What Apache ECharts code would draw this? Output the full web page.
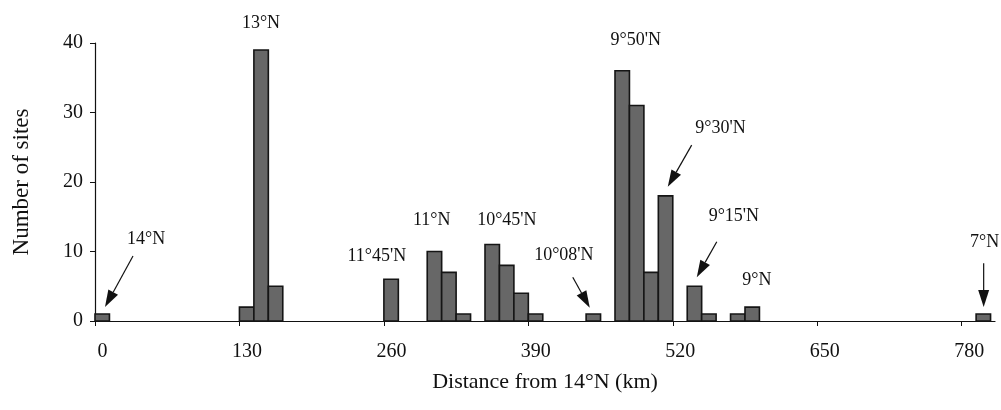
<!DOCTYPE html>
<html>
<head>
<meta charset="utf-8">
<script src="https://cdn.jsdelivr.net/npm/echarts@6/dist/echarts.min.js"></script>
<style>
  html, body { margin: 0; padding: 0; background: #fff; }
  #chart { width: 1001px; height: 410px; }
</style>
</head>
<body>
<div id="chart"></div>
<script>
// histogram bins: 13 km wide, start of each bin (km) and number of sites
const binWidth = 13;
const binStart = [0, 130, 143, 156, 260, 299, 312, 325, 351, 364, 377, 390, 442, 468, 481, 494, 507, 533, 546, 572, 585, 793];
const siteCount = [1, 2, 39, 5, 6, 10, 7, 1, 11, 8, 4, 1, 1, 36, 31, 7, 18, 5, 1, 1, 2, 1];

const xTicks = [0, 130, 260, 390, 520, 650, 780];

// latitude labels [text, km, sites]
const labelText = ['14°N', '13°N', "11°45'N", '11°N', "10°45'N", "10°08'N", "9°50'N", "9°30'N", "9°15'N", '9°N', '7°N'];
const labelPos = [[46, 11.7], [149.4, 42.9], [253.7, 9.35], [303, 14.5], [370.7, 14.5], [422, 9.5], [486.7, 40.4], [563, 27.8], [575, 15], [595.6, 5.9], [800.7, 11.4]];

// arrows [from, to] in km / sites
const arrows = [
  [[34.2, 9.35], [9, 2.0]],
  [[430, 6.3], [445.3, 1.9]],
  [[537, 25.3], [515.5, 19.3]],
  [[559.6, 11.4], [541.6, 6.3]],
  [[799.8, 8.3], [799.8, 2.0]]
];

const serif = '"Liberation Serif", "DejaVu Serif", serif';
const chart = echarts.init(document.getElementById('chart'), null, { renderer: 'canvas' });

chart.setOption({
  animation: false,
  backgroundColor: '#fff',
  grid: { left: 95, top: 43, width: 900, height: 278, containLabel: false },
  xAxis: {
    type: 'value',
    min: 0,
    max: 810,
    interval: 130,
    name: 'Distance from 14°N (km)',
    nameLocation: 'middle',
    nameGap: 50,
    nameTextStyle: { fontFamily: serif, fontSize: 22, color: '#111' },
    axisLine: { lineStyle: { color: '#111', width: 1.2 } },
    axisTick: { customValues: xTicks, length: 5, lineStyle: { color: '#111' } },
    axisLabel: {
      customValues: xTicks,
      fontFamily: serif, fontSize: 20, color: '#111',
      margin: 21,
      padding: [0, 0, 0, 15]
    },
    splitLine: { show: false }
  },
  yAxis: {
    type: 'value',
    min: 0,
    max: 40,
    interval: 10,
    name: 'Number of sites',
    nameLocation: 'middle',
    nameGap: 62,
    nameTextStyle: { fontFamily: serif, fontSize: 23, color: '#111' },
    axisLine: { show: true, lineStyle: { color: '#111', width: 1.2 } },
    axisTick: { show: true, length: 5, lineStyle: { color: '#111' } },
    axisLabel: { fontFamily: serif, fontSize: 20, color: '#111', margin: 12 },
    splitLine: { show: false }
  },
  series: [{
    type: 'custom',
    data: binStart.map((s, i) => [s, siteCount[i]]),
    renderItem: (params, api) => {
      const p0 = api.coord([api.value(0), 0]);
      const p1 = api.coord([api.value(0) + binWidth, api.value(1)]);
      return {
        type: 'rect',
        shape: { x: p0[0], y: p1[1], width: p1[0] - p0[0], height: p0[1] - p1[1] },
        style: { fill: '#676767', stroke: '#151515', lineWidth: 1.6 }
      };
    }
  }]
});

// annotations placed through the chart's own coordinate conversion
const toPx = (pt) => chart.convertToPixel({ gridIndex: 0 }, pt);
const graphics = [];
labelText.forEach((t, i) => {
  const p = toPx(labelPos[i]);
  graphics.push({
    type: 'text', x: p[0], y: p[1],
    style: { text: t, fontFamily: serif, fontSize: 18, fill: '#111', align: 'center', verticalAlign: 'middle' }
  });
});
arrows.forEach(([a, b]) => {
  const p = toPx(a), q = toPx(b);
  const dx = q[0] - p[0], dy = q[1] - p[1];
  const len = Math.hypot(dx, dy), ux = dx / len, uy = dy / len;
  const hl = 17, hw = 5.5;
  const bx = q[0] - ux * hl, by = q[1] - uy * hl;
  graphics.push({
    type: 'line',
    shape: { x1: p[0], y1: p[1], x2: bx, y2: by },
    style: { stroke: '#111', lineWidth: 1.2 }
  });
  graphics.push({
    type: 'polygon',
    shape: { points: [[q[0], q[1]], [bx - uy * hw, by + ux * hw], [bx + uy * hw, by - ux * hw]] },
    style: { fill: '#111' }
  });
});
chart.setOption({ graphic: graphics });
</script>
</body>
</html>
